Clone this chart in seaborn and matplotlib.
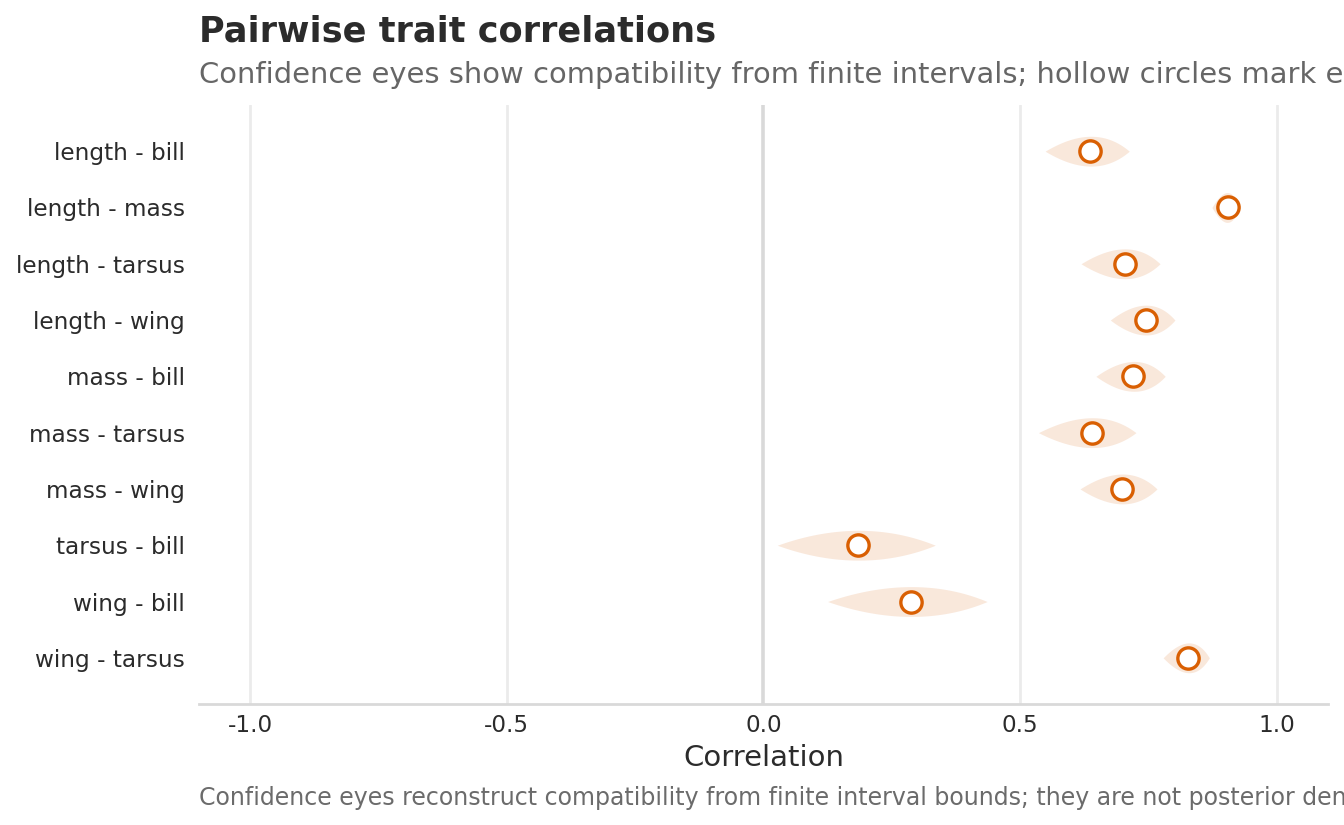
"""
Pairwise trait correlations shown as confidence eyes.
"""

import numpy as np
import pandas as pd
import matplotlib
matplotlib.use("Agg")
import matplotlib.pyplot as plt
import seaborn as sns

# Data
pairs = ["length - bill", "length - mass", "length - tarsus", "length - wing",
         "mass - bill", "mass - tarsus", "mass - wing", "tarsus - bill",
         "wing - bill", "wing - tarsus"]
estimate = [0.637, 0.906, 0.705, 0.746, 0.721, 0.641, 0.699, 0.185, 0.288, 0.828]
lower = [0.549, 0.874, 0.619, 0.676, 0.648, 0.536, 0.617, 0.027, 0.125, 0.779]
upper = [0.713, 0.927, 0.773, 0.802, 0.783, 0.726, 0.767, 0.335, 0.436, 0.869]
x_ticks = [-1.0, -0.5, 0.0, 0.5, 1.0]

ORANGE = "#d95f02"

df = pd.DataFrame({"pair": pairs, "estimate": estimate,
                   "lower": lower, "upper": upper})
df["row"] = np.arange(len(df))

sns.set_theme(style="white")
plt.rcParams["font.family"] = ["DejaVu Sans"]

fig = plt.figure(figsize=(13.44, 8.25), dpi=100)
ax = fig.add_axes([0.148, 0.1467, 0.840, 0.726])

# vertical grid
for t in x_ticks:
    if t == 0:
        ax.axvline(t, color="#d9d9d9", lw=2.6, zorder=0)
    else:
        ax.axvline(t, color="#ebebeb", lw=2.0, zorder=0)

# confidence eyes: lens shape on the Fisher z scale
half = 0.265
for _, r in df.iterrows():
    z_lo, z_hi = np.arctanh(r["lower"]), np.arctanh(r["upper"])
    zc = (z_lo + z_hi) / 2
    hw = (z_hi - z_lo) / 2
    xs = np.linspace(r["lower"], r["upper"], 200)
    t = (np.arctanh(xs) - zc) / hw
    h = np.clip(1 - t ** 2, 0, None) * half
    ax.fill_between(xs, r["row"] - h, r["row"] + h,
                    color=ORANGE, alpha=0.14, lw=0, zorder=1)

sns.scatterplot(data=df, x="estimate", y="row", ax=ax, s=235,
                marker="o", facecolor="white", edgecolor=ORANGE,
                linewidth=2.4, zorder=3, legend=False)

ax.set_xlim(-1.1, 1.1)
ax.set_ylim(len(df) - 1 + 0.82, -0.82)
ax.set_xticks(x_ticks)
ax.set_xticklabels([f"{t:.1f}" for t in x_ticks])
ax.set_yticks(df["row"])
ax.set_yticklabels(df["pair"])
ax.tick_params(axis="both", length=0, labelsize=16.7, colors="#2b2b2b")
ax.tick_params(axis="y", pad=10)
ax.tick_params(axis="x", pad=7)
ax.set_xlabel("Correlation", fontsize=21, color="#2b2b2b", labelpad=5)
ax.set_ylabel("")

for side in ["top", "right", "left"]:
    ax.spines[side].set_visible(False)
ax.spines["bottom"].set_color("#d9d9d9")
ax.spines["bottom"].set_linewidth(2.0)

# subtitle and caption run off the right edge, as in the original
fig.text(0.148, 0.950, "Pairwise trait correlations", fontsize=25.3,
         fontweight="bold", color="#2b2b2b", va="baseline")
fig.text(0.148, 0.899,
         "Confidence eyes show compatibility from finite intervals; "
         "hollow circles mark estimates",
         fontsize=20.9, color="#666666", va="baseline")
fig.text(0.148, 0.024,
         "Confidence eyes reconstruct compatibility from finite interval "
         "bounds; they are not posterior densities.",
         fontsize=17.0, color="#6b6b6b", va="baseline")

plt.savefig("out.png", dpi=100)
plt.close()
